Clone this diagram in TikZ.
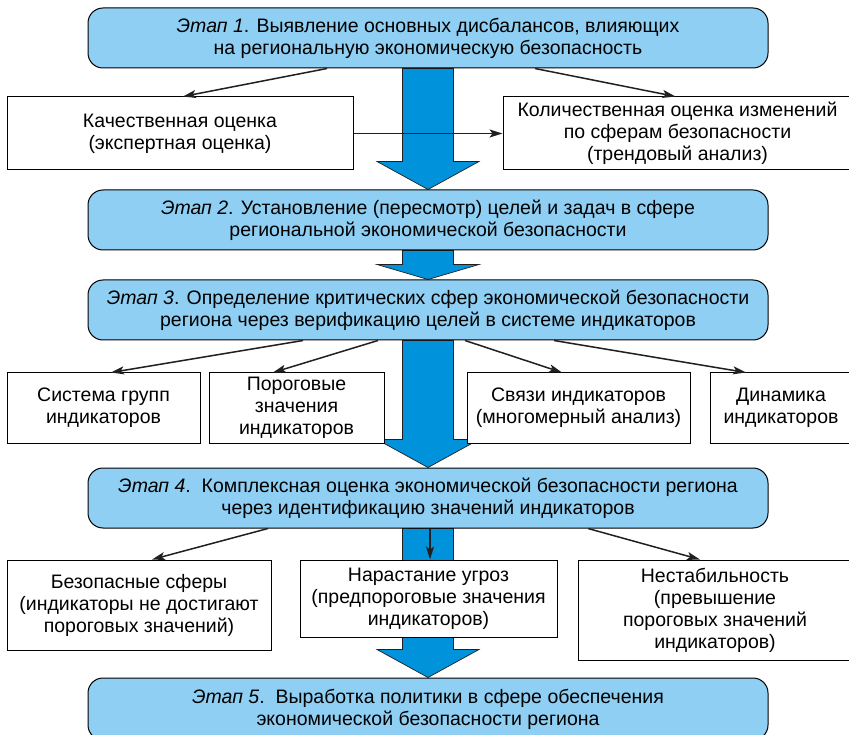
\documentclass[tikz,border=0pt]{standalone}
\usepackage{fontspec}
\setmainfont{Liberation Sans}
\usetikzlibrary{arrows.meta,backgrounds}
\definecolor{stagefill}{RGB}{142,207,243}
\definecolor{flowblue}{RGB}{0,146,218}
\definecolor{inkline}{RGB}{35,31,32}
\newcommand\flowarrow[3]{%
  \filldraw[flow] ([xshift=-25.5pt]#1) -- ([xshift=-25.5pt,yshift=#3]#2) -- ([xshift=-51pt,yshift=#3]#2)
    -- (#2) -- ([xshift=51pt,yshift=#3]#2) -- ([xshift=25.5pt,yshift=#3]#2) -- ([xshift=25.5pt]#1) -- cycle;}
\begin{document}
\begin{tikzpicture}[x=1pt,y=-1pt,
  every node/.style={font=\fontsize{19.5}{22}\selectfont, align=center, inner sep=0pt},
  stage/.style={draw=black, line width=1pt, fill=stagefill, rounded corners=15pt, minimum width=680pt, minimum height=60pt},
  box/.style={draw=black, line width=1pt, fill=white},
  link/.style={inkline, line width=1.5pt, -{Stealth[length=13pt,width=8pt,inset=3pt]}},
  flow/.style={fill=flowblue, draw=inkline, line width=0.7pt, line join=miter}]
\useasboundingbox (0,0) rectangle (849,735);
\node[stage] (s1) at (428,38) {\textit{Этап 1}. Выявление основных дисбалансов, влияющих\\на региональную экономическую безопасность};
\node[box, minimum width=346pt, minimum height=73pt] (kach) at (180,133.5) {Качественная оценка\\(экспертная оценка)};
\node[box, minimum width=349pt, minimum height=73pt] (kol) at (677.5,133.5) {Количественная оценка изменений\\по сферам безопасности\\(трендовый анализ)};
\node[stage] (s2) at (428,220) {\textit{Этап 2}. Установление (пересмотр) целей и задач в сфере\\региональной экономической безопасности};
\node[stage] (s3) at (428,310) {\textit{Этап 3}. Определение критических сфер экономической безопасности\\региона через верификацию целей в системе индикаторов};
\node[box, minimum width=193pt, minimum height=70pt] (sys) at (103.5,408) {Система групп\\индикаторов};
\node[box, minimum width=175pt, minimum height=70pt] (por) at (296.5,408) {Пороговые\\значения\\индикаторов};
\node[box, minimum width=223pt, minimum height=70pt] (svy) at (578.5,408) {Связи индикаторов\\(многомерный анализ)};
\node[box, minimum width=142pt, minimum height=70pt] (din) at (781,408) {Динамика\\индикаторов};
\node[stage] (s4) at (428,498) {\textit{Этап 4}.\ \ Комплексная оценка экономической безопасности региона\\через идентификацию значений индикаторов};
\node[box, minimum width=264pt, minimum height=90pt] (bez) at (139,605) {Безопасные сферы\\(индикаторы не достигают\\пороговых значений)};
\node[box, minimum width=257pt, minimum height=77pt] (nar) at (428.5,598.5) {Нарастание угроз\\(предпороговые значения\\индикаторов)};
\node[box, minimum width=274pt, minimum height=100pt] (nes) at (715,610) {Нестабильность\\(превышение\\пороговых значений\\индикаторов)};
\node[stage, minimum height=62pt] (s5) at (428,709) {\textit{Этап 5}.\ \ Выработка политики в сфере обеспечения\\экономической безопасности региона};

\begin{scope}[on background layer]
\flowarrow{s1.south}{s2.north}{28pt}
\flowarrow{s2.south}{s3.north}{15pt}
\flowarrow{s3.south}{s4.north}{28pt}
\flowarrow{s4.south}{s5.north}{28pt}
\end{scope}

\draw[link] ([xshift=-101pt]s1.south) -- ([xshift=3pt]kach.north);
\draw[link] ([xshift=107pt]s1.south) -- ([xshift=-2pt]kol.north);
\draw[link] (kach.east) -- (kol.west);
\draw[link] ([xshift=-125pt]s3.south) -- ([xshift=7.5pt]sys.north);
\draw[link] ([xshift=-50pt]s3.south) -- ([xshift=-23.5pt]por.north);
\draw[link] ([xshift=37pt]s3.south) -- ([xshift=-16.5pt]svy.north);
\draw[link] ([xshift=126pt]s3.south) -- ([xshift=-35pt]din.north);
\draw[link] ([xshift=-160pt]s4.south) -- ([xshift=13pt]bez.north);
\draw[link] ([xshift=2pt]s4.south) -- ([xshift=1.5pt]nar.north);
\draw[link] ([xshift=160pt]s4.south) -- ([xshift=-15pt]nes.north);
\end{tikzpicture}
\end{document}
